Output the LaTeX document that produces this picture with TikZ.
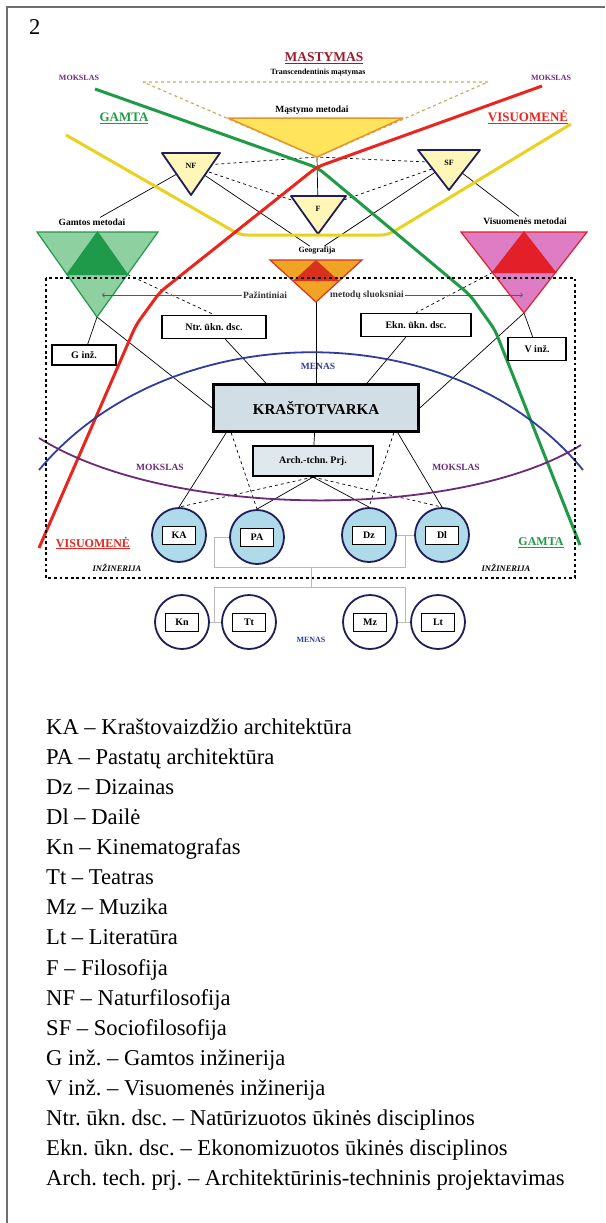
\documentclass[tikz,border=0pt]{standalone}
\usepackage{fontspec}
\setmainfont{Liberation Serif}
\usepackage{xcolor}
\usepackage{tikz}
\usetikzlibrary{arrows,positioning,calc,backgrounds}
\frenchspacing

\definecolor{navyline}{HTML}{1E1E5A}
\definecolor{paleyellow}{HTML}{FFF6B8}
\definecolor{thinkyellow}{HTML}{FFE45C}
\definecolor{thinkorange}{HTML}{E8922C}
\definecolor{dashkhaki}{HTML}{BFB060}
\definecolor{natlight}{HTML}{8FD0A0}
\definecolor{natdark}{HTML}{1E9A4A}
\definecolor{soclight}{HTML}{DE7CC4}
\definecolor{socdark}{HTML}{E3202A}
\definecolor{geoorange}{HTML}{F0A424}
\definecolor{geored}{HTML}{D8321E}
\definecolor{linegreen}{HTML}{1F9A45}
\definecolor{linered}{HTML}{E8261E}
\definecolor{lineyellow}{HTML}{E8D21E}
\definecolor{artblue}{HTML}{2E3C9E}
\definecolor{scipurple}{HTML}{6A2A78}
\definecolor{thinkred}{HTML}{9C1C2C}
\definecolor{boxblue}{HTML}{D2DEE6}
\definecolor{circblue}{HTML}{AFDAEA}
\definecolor{framegray}{HTML}{6E6E6E}

\begin{document}
\begin{tikzpicture}[
    x=1pt, y=-1pt,
    lbl/.style={inner sep=1pt, font=\fontsize{9.5}{10}\selectfont\bfseries},
    small/.style={inner sep=1pt, font=\fontsize{8}{9}\selectfont\bfseries},
    smalltri/.style={fill=paleyellow, draw=navyline, line width=1.8pt, line join=round},
    dbox/.style={rectangle, draw, line width=1.6pt, fill=white, inner sep=1pt, font=\fontsize{10}{11}\selectfont\bfseries},
    circ/.style={circle, draw=navyline, line width=1.8pt, minimum size=54pt, inner sep=0pt},
    inbox/.style={rectangle, draw, line width=0.8pt, fill=white, minimum width=33pt, minimum height=18pt, inner sep=0pt, font=\fontsize{10}{11}\selectfont\bfseries},
    link/.style={line width=0.7pt},
    dlink/.style={line width=0.7pt, dashed},
    gline/.style={gray!55, line width=0.9pt},
    bigline/.style={line width=3pt, line join=round, rounded corners=7pt},
    legend/.style={anchor=base west, inner sep=0pt, font=\fontsize{22.6}{27}\selectfont}
]
\useasboundingbox (0,0) rectangle (605,1223);
\draw[framegray, line width=1.2pt] (7,1223) -- (7,7) -- (605,7);
\node[legend] (fignum) at (29,35) {2};

% Thinking layer
\draw[dashed, dashkhaki, line width=1.2pt] (143,82) -- (488,82) -- (317,157) -- cycle;
\coordinate (mL) at (228,118);
\coordinate (mR) at (403,118);
\coordinate (mB) at (317,157);
\filldraw[fill=thinkyellow, draw=thinkorange, line width=1.5pt, line join=round] (mL) -- (mR) -- (mB) -- cycle;
\node[lbl] (mastMet) at (312,110) {Mąstymo metodai};
\node[lbl, text=thinkred, font=\fontsize{13.5}{14}\selectfont\bfseries] (mastymas) at (324,58) {\underline{MASTYMAS}};
\node[small] (transc) at (318,73) {Transcendentinis mąstymas};
\node[small, text=scipurple] (moksTL) at (79,78) {MOKSLAS};
\node[small, text=scipurple] (moksTR) at (551,78) {MOKSLAS};
\node[lbl, text=linegreen, font=\fontsize{13}{14}\selectfont\bfseries] (gamtaT) at (124,118) {\underline{GAMTA}};
\node[lbl, text=linered, font=\fontsize{13}{14}\selectfont\bfseries] (visT) at (528,117) {\underline{VISUOMENĖ}};

% Philosophy triangles
\filldraw[smalltri] (162,153) -- (220,153) -- (191,195) -- cycle;
\node[small] (NF) at (191,166) {NF};
\filldraw[smalltri] (418,150) -- (480,150) -- (449,190) -- cycle;
\node[small] (SF) at (449,163) {SF};
\filldraw[smalltri] (291,196) -- (346,196) -- (318,234) -- cycle;
\node[small] (F) at (318,209) {F};

% Method triangles
\coordinate (gL) at (37,232);
\coordinate (gR) at (158,232);
\coordinate (gB) at (97,317);
\filldraw[fill=natlight, draw=natdark, line width=1.2pt] (gL) -- (gR) -- (gB) -- cycle;
\filldraw[fill=natdark, draw=natdark, line width=1.2pt] ($(gL)!0.5!(gR)$) -- ($(gL)!0.5!(gB)$) -- ($(gR)!0.5!(gB)$) -- cycle;
\coordinate (gRm) at ($(gR)!0.5!(gB)$);
\node[lbl] (gamLbl) at (92,222) {Gamtos metodai};

\coordinate (vL) at (461,232);
\coordinate (vR) at (587,232);
\coordinate (vB) at (524,313);
\filldraw[fill=soclight, draw=socdark, line width=1.2pt] (vL) -- (vR) -- (vB) -- cycle;
\filldraw[fill=socdark, draw=socdark, line width=1.2pt] ($(vL)!0.5!(vR)$) -- ($(vL)!0.5!(vB)$) -- ($(vR)!0.5!(vB)$) -- cycle;
\coordinate (vLm) at ($(vL)!0.5!(vB)$);
\node[lbl] (visLbl) at (525,221) {Visuomenės metodai};

\coordinate (geoL) at (270,260);
\coordinate (geoR) at (362,260);
\coordinate (geoB) at (316,302);
\filldraw[fill=geoorange, draw=geored, line width=1.2pt] (geoL) -- (geoR) -- (geoB) -- cycle;
\fill[geored] ($(geoL)!0.5!(geoR)$) -- ($(geoL)!0.5!(geoB)$) -- ($(geoR)!0.5!(geoB)$) -- cycle;
\node[small] (geoLbl) at (317,251) {Geografija};

% Big lines
\draw[bigline, lineyellow] (66,135) -- (240,235) -- (388,235) -- (571,124);
\draw[bigline, linegreen] (95,89) -- (318,168) -- (470,295) -- (495,330) -- (580,545);
\draw[bigline, linered] (542,86) -- (317,167) -- (160,292) -- (136,325) -- (39,548);
\draw[artblue, line width=1.8pt] (39,470) .. controls (170,313) and (455,313) .. (583,470);
\draw[scipurple, line width=1.8pt] (39,438) .. controls (170,520) and (460,520) .. (581,445);

% Practice frame
\draw[line width=2.8pt, dash pattern=on 2.8pt off 2.8pt] (46,278) rectangle (575,578);
\node[lbl, text=black!80] (pazL) at (265,295) {Pažintiniai};
\node[lbl, text=black!80] (pazR) at (367,295) {metodų sluoksniai};
\coordinate (pazA) at (102,295);
\coordinate (pazB) at (523,295);
\draw[->, gray!70!black, line width=0.8pt] (pazL) -- (pazA);
\draw[->, gray!70!black, line width=0.8pt] (pazR) -- (pazB);

\node[dbox, minimum width=104pt, minimum height=23pt] (Ntr) at (214,327) {Ntr. ūkn. dsc.};
\node[dbox, minimum width=110pt, minimum height=23pt] (Ekn) at (416,325) {Ekn. ūkn. dsc.};
\node[dbox, minimum width=64pt, minimum height=20pt] (Ginz) at (84,355) {G inž.};
\node[dbox, minimum width=58pt, minimum height=23pt] (Vinz) at (537,349) {V inž.};
\node[lbl, text=artblue] (menasT) at (318,366) {MENAS};
\node[dbox, fill=boxblue, line width=2.6pt, minimum width=205pt, minimum height=47pt, font=\fontsize{15}{16}\selectfont\bfseries] (KRAS) at (316,408) {KRAŠTOTVARKA};
\node[dbox, fill=boxblue!70, line width=2.2pt, minimum width=120pt, minimum height=30pt] (Arch) at (313,461) {Arch.-tchn. Prj.};
\node[lbl, text=scipurple] (moksL) at (160,467) {MOKSLAS};
\node[lbl, text=scipurple] (moksR) at (456,467) {MOKSLAS};

% Arts
\node[circ, fill=circblue] (KA) at (179,535) {};
\node[inbox] (KAt) at (KA) {KA};
\node[circ, fill=circblue] (PA) at (257,537) {};
\node[inbox] (PAt) at (PA) {PA};
\node[circ, fill=circblue] (Dz) at (369,535) {};
\node[inbox] (Dzt) at (Dz) {Dz};
\node[circ, fill=circblue] (Dl) at (442,535) {};
\node[inbox] (Dlt) at (Dl) {Dl};

\node[circ, fill=white] (Kn) at (182,622) {};
\node[inbox] (Knt) at (Kn) {Kn};
\node[circ, fill=white] (Tt) at (249,622) {};
\node[inbox] (Ttt) at (Tt) {Tt};
\node[circ, fill=white] (Mz) at (370,622) {};
\node[inbox] (Mzt) at (Mz) {Mz};
\node[circ, fill=white] (Lt) at (438,622) {};
\node[inbox] (Ltt) at (Lt) {Lt};
\node[small, text=artblue] (menasB) at (311,640) {MENAS};

\node[lbl, text=linered, font=\fontsize{12}{13}\selectfont\bfseries] (visB) at (93,543) {\underline{VISUOMENĖ}};
\node[lbl, text=linegreen, font=\fontsize{12}{13}\selectfont\bfseries] (gamtaB) at (541,543) {\underline{GAMTA}};
\node[small, font=\fontsize{8.5}{9}\selectfont\bfseries\itshape] (inzL) at (117,568) {INŽINERIJA};
\node[small, font=\fontsize{8.5}{9}\selectfont\bfseries\itshape] (inzR) at (506,568) {INŽINERIJA};

% Gray brackets
\coordinate (brTL) at (214,567);
\coordinate (brTR) at (405,567);
\coordinate (brBL) at (214,587);
\coordinate (brBR) at (405,587);
\coordinate (brM1) at (311,567);
\coordinate (brM2) at (311,587);
\draw[gline] (PA.west) -| (brTL) -- (brTR) |- (Dl.west);
\draw[gline] (Dz) -- (Dl);
\draw[gline] (brM1) -- (brM2);
\draw[gline] (Tt.west) -| (brBL) -- (brBR) |- (Lt.west);
\draw[gline] (Kn) -- (Tt);
\draw[gline] (Mz) -- (Lt);

% Connectors
\begin{scope}[on background layer]
    \draw[link] (NF) -- (gamLbl);
    \draw[link] (SF) -- (visLbl);
    \draw[link] (NF) -- (geoLbl);
    \draw[link] (SF) -- (geoLbl);
    \draw[dlink] (NF) -- (mB);
    \draw[dlink] (SF) -- (mB);
    \draw[dlink] (NF) -- (F);
    \draw[dlink] (SF) -- (F);
    \draw[link] (mB) -- (F);
    \draw[link] (geoB) -- (KRAS);
    \draw[link] (gB) -- (Ginz);
    \draw[link] (gB) -- (KRAS.west);
    \draw[link] (vB) -- (Vinz);
    \draw[link] (vB) -- (KRAS.east);
    \draw[dlink] (gRm) -- (Ntr.north);
    \draw[dlink] (vLm) -- (Ekn.north);
    \draw[link] (Ntr) -- ([xshift=-50pt]KRAS.north);
    \draw[link] (Ekn) -- ([xshift=51pt]KRAS.north);
    \draw[link] (KRAS) -- (Arch);
    \draw[link] ([xshift=14pt]KRAS.south west) -- (KA.north);
    \draw[dlink] ([xshift=19pt]KRAS.south west) -- (PA.north);
    \draw[dlink] ([xshift=-26pt]KRAS.south east) -- (Dz.north);
    \draw[link] ([xshift=-22pt]KRAS.south east) -- (Dl.north);
    \draw[dlink] (Arch.south) -- (KA.north);
    \draw[link] (Arch.south) -- (PA.north);
    \draw[link] (Arch.south) -- (Dz.north);
    \draw[dlink] (Arch.south) -- (Dl.north);
\end{scope}

% Legend
\node[legend] (lgKA) at (46,734) {KA – Kraštovaizdžio architektūra};
\node[legend] (lgPA) at (46,764) {PA – Pastatų architektūra};
\node[legend] (lgDz) at (46,794) {Dz – Dizainas};
\node[legend] (lgDl) at (46,824) {Dl – Dailė};
\node[legend] (lgKn) at (46,854) {Kn – Kinematografas};
\node[legend] (lgTt) at (46,884) {Tt – Teatras};
\node[legend] (lgMz) at (46,914) {Mz – Muzika};
\node[legend] (lgLt) at (46,944) {Lt – Literatūra};
\node[legend] (lgF) at (46,975) {F – Filosofija};
\node[legend] (lgNF) at (46,1005) {NF – Naturfilosofija};
\node[legend] (lgSF) at (46,1035) {SF – Sociofilosofija};
\node[legend] (lgG) at (46,1065) {G inž. – Gamtos inžinerija};
\node[legend] (lgV) at (46,1095) {V inž. – Visuomenės inžinerija};
\node[legend] (lgNtr) at (46,1125) {Ntr. ūkn. dsc. – Natūrizuotos ūkinės disciplinos};
\node[legend] (lgEkn) at (46,1155) {Ekn. ūkn. dsc. – Ekonomizuotos ūkinės disciplinos};
\node[legend] (lgArch) at (46,1185) {Arch. tech. prj. – Architektūrinis-techninis projektavimas};
\end{tikzpicture}
\end{document}
